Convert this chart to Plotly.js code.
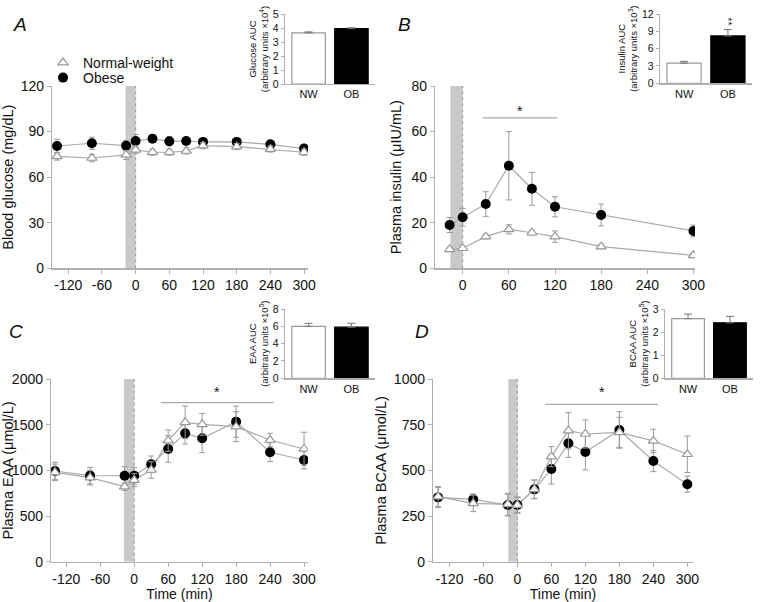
<!DOCTYPE html>
<html>
<head>
<meta charset="utf-8">
<script src="https://cdn.plot.ly/plotly-3.0.1.min.js"></script>
<style>html,body{margin:0;padding:0;background:#fff;}#chart{width:760px;height:602px;}</style>
</head>
<body>
<div id="chart"></div>
<script>
// ---- data ----
var timeFull = [-140, -78, -17, 0, 30, 60, 90, 120, 180, 240, 300];
var timeIns = [-17, 0, 30, 60, 90, 120, 180, 300];

var glucoseOB = [80.5, 82.3, 80.7, 83.8, 85.3, 83.6, 83.8, 83.2, 83.2, 81.6, 78.8];
var glucoseOBse = [4.5, 4, 3.5, 4.3, 2.5, 3, 2.3, 1.8, 1.8, 1.5, 1.3];
var glucoseNW = [73.7, 72.6, 74.6, 77.9, 76.4, 76.4, 77.2, 80.7, 80.1, 78.5, 76.4];
var glucoseNWse = [2.5, 2.5, 3, 2.5, 2, 2, 2, 2, 2, 2, 2];

var insulinOB = [19.0, 22.4, 28.2, 45.0, 34.9, 27.0, 23.4, 16.4];
var insulinOBse = [3.3, 3.9, 5.4, 15, 7.2, 4.4, 4.8, 2.6];
var insulinNW = [8.3, 8.8, 13.9, 17.1, 15.6, 13.9, 9.5, 5.7];
var insulinNWse = [1, 1, 1, 2, 1, 2.5, 1, 1];

var eaaOB = [993, 942, 941, 941, 1066, 1234, 1405, 1351, 1533, 1198, 1113];
var eaaOBse = [95, 90, 100, 92, 91, 146, 117, 158, 171, 103, 98];
var eaaNW = [978, 920, 821, 894, 1004, 1325, 1526, 1504, 1478, 1332, 1234];
var eaaNWse = [90, 80, 40, 70, 90, 117, 178, 120, 164, 73, 183];

var bcaaOB = [352, 341, 310, 310, 396, 507, 648, 600, 721, 551, 424];
var bcaaOBse = [55, 30, 60, 40, 51, 82, 77, 98, 100, 58, 44];
var bcaaNW = [356, 319, 314, 310, 396, 575, 717, 699, 708, 661, 588];
var bcaaNWse = [55, 45, 60, 45, 51, 55, 99, 77, 82, 64, 100];

var groups = ['NW', 'OB'];
var glucoseAUC = [3.65, 3.95], glucoseAUCse = [0.07, 0.07];
var insulinAUC = [3.5, 8.2], insulinAUCse = [0.3, 1.1];
var eaaAUC = [6.0, 5.9], eaaAUCse = [0.35, 0.45];
var bcaaAUC = [2.58, 2.4], bcaaAUCse = [0.2, 0.28];

var xTicks = [-120, -60, 0, 60, 120, 180, 240, 300];

// ---- styles ----
var FONT = 'Liberation Sans, Arial, Helvetica, sans-serif';
var AX = '#b0b0b0';
var LINEC = '#aaaaaa';
var ERRC = '#9a9a9a';

var traces = [];
function panel(xa, ya, t, ob, obse, nw, nwse, legend) {
  traces.push({x: t, y: ob, xaxis: xa, yaxis: ya, mode: 'lines', line: {color: LINEC, width: 1.2}, showlegend: false, hoverinfo: 'skip'});
  traces.push({x: t, y: nw, xaxis: xa, yaxis: ya, mode: 'lines', line: {color: LINEC, width: 1.2}, showlegend: false, hoverinfo: 'skip'});
  traces.push({x: t, y: ob, xaxis: xa, yaxis: ya, mode: 'markers', name: 'Obese', legend: 'legend2',
    marker: {symbol: 'circle', size: 10, color: '#000'},
    error_y: {type: 'data', array: obse, visible: true, color: ERRC, thickness: 1, width: 3},
    showlegend: legend});
  traces.push({x: t, y: nw, xaxis: xa, yaxis: ya, mode: 'markers', name: 'Normal-weight', legend: 'legend',
    marker: {symbol: 'triangle-up', size: 9, color: '#fff', line: {color: '#999', width: 1.2}},
    error_y: {type: 'data', array: nwse, visible: true, color: ERRC, thickness: 1, width: 3},
    showlegend: legend});
}
panel('x', 'y', timeFull, glucoseOB, glucoseOBse, glucoseNW, glucoseNWse, true);
panel('x2', 'y2', timeIns, insulinOB, insulinOBse, insulinNW, insulinNWse, false);
panel('x3', 'y3', timeFull, eaaOB, eaaOBse, eaaNW, eaaNWse, false);
panel('x4', 'y4', timeFull, bcaaOB, bcaaOBse, bcaaNW, bcaaNWse, false);

function inset(xa, ya, vals, se) {
  traces.push({x: groups, y: vals, xaxis: xa, yaxis: ya, type: 'bar', width: 0.78, showlegend: false,
    marker: {color: ['#fff', '#000'], line: {color: ['#999', '#000'], width: 1.2}},
    error_y: {type: 'data', symmetric: false, array: se, arrayminus: [0, 0], visible: true, color: '#777', thickness: 1, width: 4},
    hoverinfo: 'skip'});
}
inset('x5', 'y5', glucoseAUC, glucoseAUCse);
inset('x6', 'y6', insulinAUC, insulinAUCse);
inset('x7', 'y7', eaaAUC, eaaAUCse);
inset('x8', 'y8', bcaaAUC, bcaaAUCse);

function W(px) { return px / 760; }
function H(py) { return 1 - py / 602; }

function mainX(d, range, title) {
  var o = {domain: d, range: range, showline: true, linecolor: AX, linewidth: 1.2, ticks: 'outside', tickcolor: AX, ticklen: 4,
    tickvals: xTicks, ticktext: xTicks.map(String), showgrid: false, zeroline: false, tickfont: {size: 14, color: '#111'}, fixedrange: true};
  if (title) o.title = {text: title, font: {size: 14, color: '#111'}, standoff: 3};
  return o;
}
function mainY(d, range, dtick, title, standoff, anchor) {
  return {domain: d, range: range, anchor: anchor, showline: true, linecolor: AX, linewidth: 1.2, ticks: 'outside', tickcolor: AX, ticklen: 4,
    dtick: dtick, showgrid: false, zeroline: false, tickfont: {size: 14, color: '#111'},
    title: {text: title, font: {size: 14.5, color: '#111'}, standoff: standoff}, fixedrange: true};
}
function insX(d, anchor) {
  return {domain: d, anchor: anchor, range: [-0.55, 1.55], showline: true, linecolor: AX, linewidth: 1.2, ticks: '', showgrid: false,
    zeroline: false, tickfont: {size: 11, color: '#111'}, fixedrange: true};
}
function insY(d, range, dtick, title, anchor) {
  return {domain: d, anchor: anchor, range: range, dtick: dtick, showline: true, linecolor: AX, linewidth: 1.2, ticks: 'outside', tickcolor: AX, ticklen: 3,
    showgrid: false, zeroline: false, tickfont: {size: 10.5, color: '#111'},
    title: {text: title, font: {size: 9.5, color: '#111'}, standoff: 2}, fixedrange: true};
}

var yA = [H(268.3), H(86)], yC = [H(561.7), H(379)];
var legStyle = function (py) {
  return {x: W(43), y: H(py), xanchor: 'left', yanchor: 'middle', bgcolor: 'rgba(0,0,0,0)', font: {size: 14, color: '#111'},
    itemwidth: 30, borderwidth: 0};
};
var layout = {
  width: 760, height: 602,
  margin: {l: 0, r: 0, t: 0, b: 0},
  paper_bgcolor: '#fff', plot_bgcolor: 'rgba(0,0,0,0)',
  font: {family: FONT, color: '#111'},
  showlegend: true,
  legend: legStyle(63),
  legend2: legStyle(78),
  xaxis: mainX([W(52), W(308)], [-149, 307]),
  yaxis: mainY(yA, [0, 120], 30, 'Blood glucose (mg/dL)', 6, 'x'),
  xaxis2: mainX([W(435), W(695)], [-36, 302]),
  yaxis2: mainY(yA, [0, 80], 20, 'Plasma insulin (μIU/mL)', 6, 'x2'),
  xaxis3: mainX([W(51), W(308)], [-147, 307], 'Time (min)'),
  yaxis3: mainY(yC, [0, 2000], 500, 'Plasma EAA (μmol/L)', 3, 'x3'),
  xaxis4: mainX([W(433), W(693)], [-149, 310], 'Time (min)'),
  yaxis4: mainY(yC, [0, 1000], 250, 'Plasma BCAA (μmol/L)', 3, 'x4'),
  xaxis5: insX([W(285), W(375)], 'y5'),
  yaxis5: insY([H(84), H(14)], [0, 5], 1, 'Glucose AUC<br>(arbitrary units ×10<sup>4</sup>)', 'x5'),
  xaxis6: insX([W(660), W(752)], 'y6'),
  yaxis6: insY([H(83.3), H(14)], [0, 12], 3, 'Insulin AUC<br>(arbitrary units ×10<sup>3</sup>)', 'x6'),
  xaxis7: insX([W(285), W(375)], 'y7'),
  yaxis7: insY([H(378.3), H(309)], [0, 8], 2, 'EAA AUC<br>(arbitrary units ×10<sup>5</sup>)', 'x7'),
  xaxis8: insX([W(665), W(753)], 'y8'),
  yaxis8: insY([H(378.3), H(309)], [0, 3], 1, 'BCAA AUC<br>(arbitrary units ×10<sup>5</sup>)', 'x8'),
  shapes: [],
  annotations: []
};
layout.xaxis.anchor = 'y'; layout.xaxis2.anchor = 'y2'; layout.xaxis3.anchor = 'y3'; layout.xaxis4.anchor = 'y4';

// infusion band
[['x', 'y', 120, -18], ['x2', 'y2', 80, -16], ['x3', 'y3', 2000, -18], ['x4', 'y4', 1000, -16]].forEach(function (p) {
  layout.shapes.push({type: 'rect', xref: p[0], yref: p[1], x0: p[3], x1: 0, y0: 0, y1: p[2], fillcolor: '#c9c9c9', line: {width: 0}, layer: 'below'});
  layout.shapes.push({type: 'line', xref: p[0], yref: p[1], x0: 0, x1: 0, y0: 0, y1: p[2], line: {color: '#999', width: 1, dash: 'dot'}, layer: 'below'});
});
// significance bars
[['x2', 'y2', 26, 123, 66, 69], ['x3', 'y3', 47, 246, 1741, 1860], ['x4', 'y4', 50, 248, 861, 930]].forEach(function (p) {
  layout.shapes.push({type: 'line', xref: p[0], yref: p[1], x0: p[2], x1: p[3], y0: p[4], y1: p[4], line: {color: '#aaa', width: 1.2}});
  layout.annotations.push({xref: p[0], yref: p[1], x: (p[2] + p[3]) / 2, y: p[5], text: '*', showarrow: false, font: {size: 14, color: '#111'}});
});
// inset significance
layout.annotations.push({xref: 'x6', yref: 'y6', x: 'OB', y: 10.6, text: '**', textangle: 90, showarrow: false, font: {size: 11, color: '#333'}});
// panel letters
[['A', 20, 25], ['B', 404, 25], ['C', 16, 332], ['D', 422, 332]].forEach(function (p) {
  layout.annotations.push({xref: 'paper', yref: 'paper', x: W(p[1]), y: H(p[2]), text: '<i>' + p[0] + '</i>', showarrow: false,
    xanchor: 'center', yanchor: 'middle', font: {size: 19, color: '#111'}});
});

Plotly.newPlot('chart', traces, layout, {displayModeBar: false, staticPlot: true});
</script>
</body>
</html>
